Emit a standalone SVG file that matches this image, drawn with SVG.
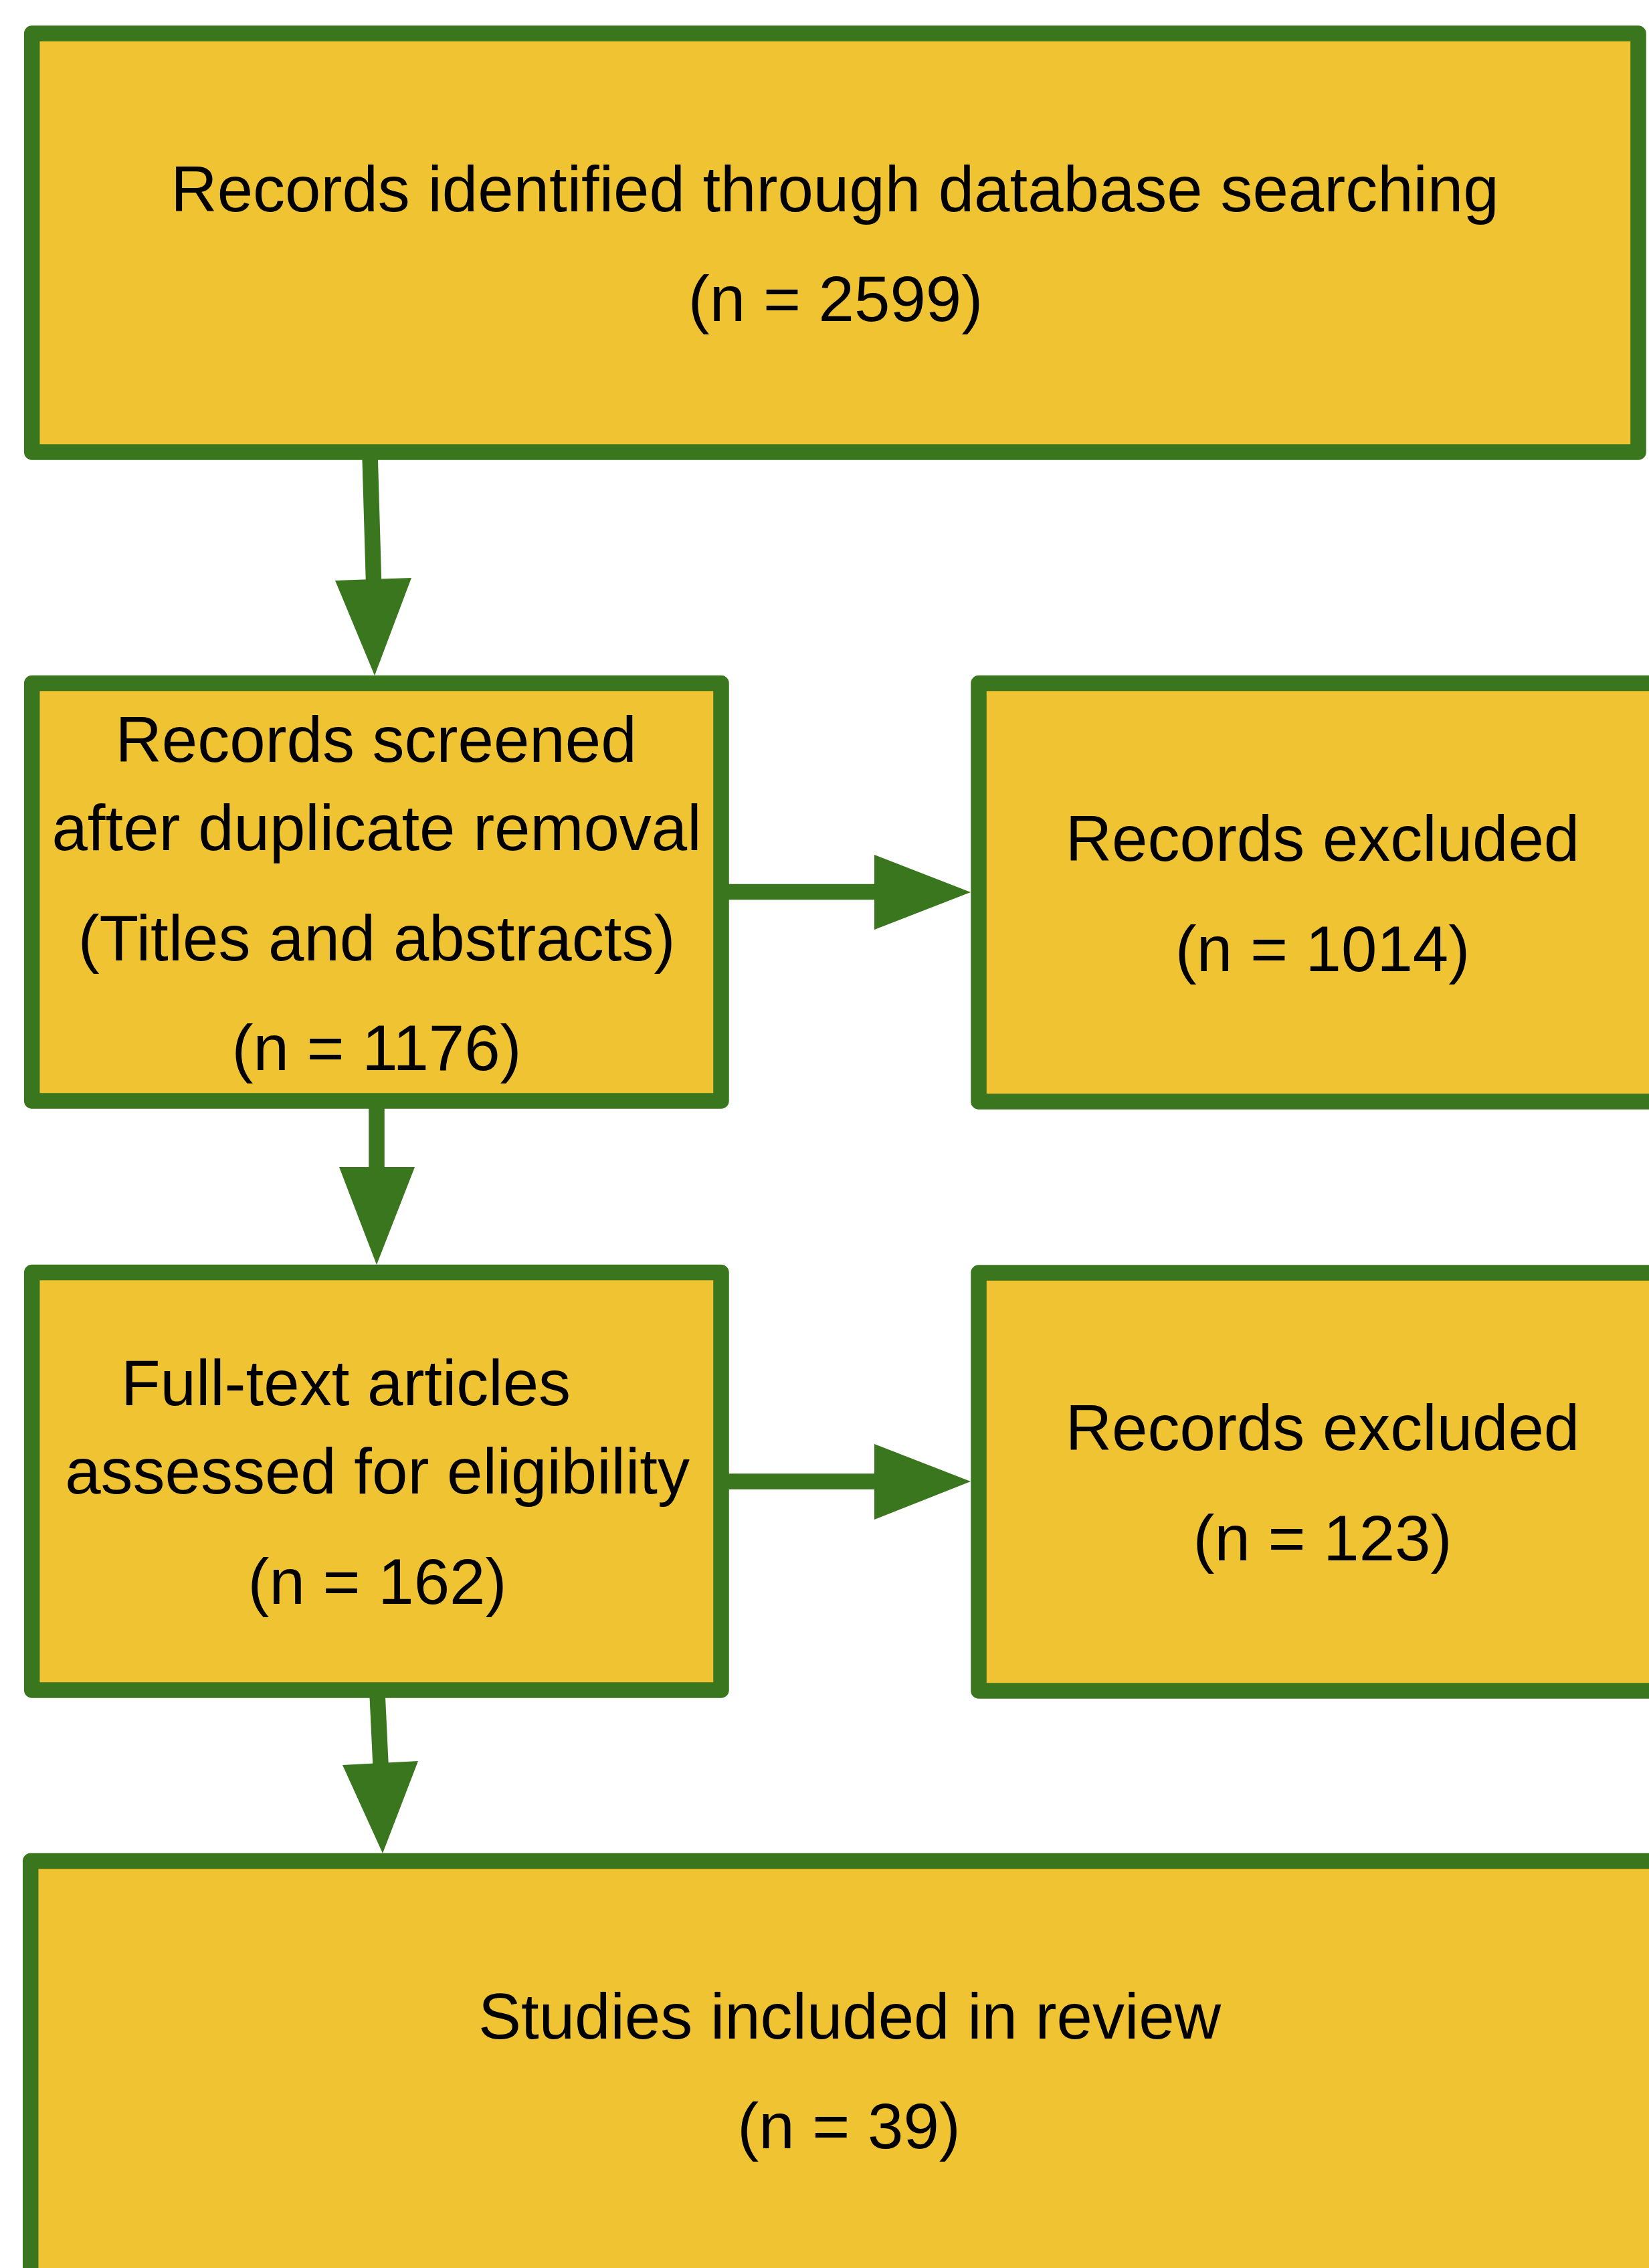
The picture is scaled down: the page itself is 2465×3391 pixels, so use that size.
<svg xmlns="http://www.w3.org/2000/svg" width="2465" height="3391" viewBox="0 0 2465 3391">
  <style>
    .box { fill: #F0C332; stroke: #39761E; stroke-width: 23.5; stroke-linejoin: round; }
    .lbl { font-family: "Liberation Sans", Arial, sans-serif; font-size: 96px; fill: #000; text-anchor: middle; }
    .shaft { stroke: #39761E; stroke-width: 23.5; fill: none; stroke-linecap: butt; }
    .head { fill: #39761E; stroke: none; }
  </style>
  <rect x="0" y="0" width="2465" height="3391" fill="#FFFFFF"/>

  <!-- flow connectors -->
  <g id="connectors">
    <line class="shaft" x1="553" y1="680" x2="558.5" y2="868"/>
    <polygon class="head" points="501,868 615,864 560,1010"/>

    <line class="shaft" x1="563" y1="1650" x2="563" y2="1746"/>
    <polygon class="head" points="507,1745 620,1745 563,1891"/>

    <line class="shaft" x1="1085" y1="1333.5" x2="1308" y2="1333.5"/>
    <polygon class="head" points="1307,1278 1307,1390 1451,1334"/>

    <line class="shaft" x1="1085" y1="2215" x2="1308" y2="2215"/>
    <polygon class="head" points="1307,2159 1307,2272 1451,2215"/>

    <line class="shaft" x1="564" y1="2532" x2="569" y2="2638"/>
    <polygon class="head" points="512,2639 625,2633 572,2771"/>
  </g>

  <g id="identified">
    <rect class="box" x="47.7" y="50" width="2401.3" height="626"/>
    <text class="lbl" x="1248" y="316">Records identified through database searching</text>
    <text class="lbl" x="1249" y="480">(n = 2599)</text>
  </g>

  <g id="screened">
    <rect class="box" x="47.7" y="1021.5" width="1030.3" height="624.5"/>
    <text class="lbl" x="562" y="1139">Records screened</text>
    <text class="lbl" x="563" y="1271">after duplicate removal</text>
    <text class="lbl" x="563" y="1436">(Titles and abstracts)</text>
    <text class="lbl" x="563" y="1600">(n = 1176)</text>
  </g>

  <g id="excluded-screening">
    <rect class="box" x="1463" y="1021.5" width="1030" height="625.5"/>
    <text class="lbl" x="1977" y="1287">Records excluded</text>
    <text class="lbl" x="1977" y="1452">(n = 1014)</text>
  </g>

  <g id="eligibility">
    <rect class="box" x="47.7" y="1902.5" width="1030.3" height="624.5"/>
    <text class="lbl" x="517" y="2101">Full-text articles</text>
    <text class="lbl" x="564" y="2233">assessed for eligibility</text>
    <text class="lbl" x="564" y="2398">(n = 162)</text>
  </g>

  <g id="excluded-fulltext">
    <rect class="box" x="1463" y="1903" width="1030" height="625"/>
    <text class="lbl" x="1977" y="2168">Records excluded</text>
    <text class="lbl" x="1977" y="2333">(n = 123)</text>
  </g>

  <g id="included">
    <rect class="box" x="45.7" y="2782.5" width="2446.3" height="640"/>
    <text class="lbl" x="1270" y="3048">Studies included in review</text>
    <text class="lbl" x="1269" y="3212">(n = 39)</text>
  </g>
</svg>
